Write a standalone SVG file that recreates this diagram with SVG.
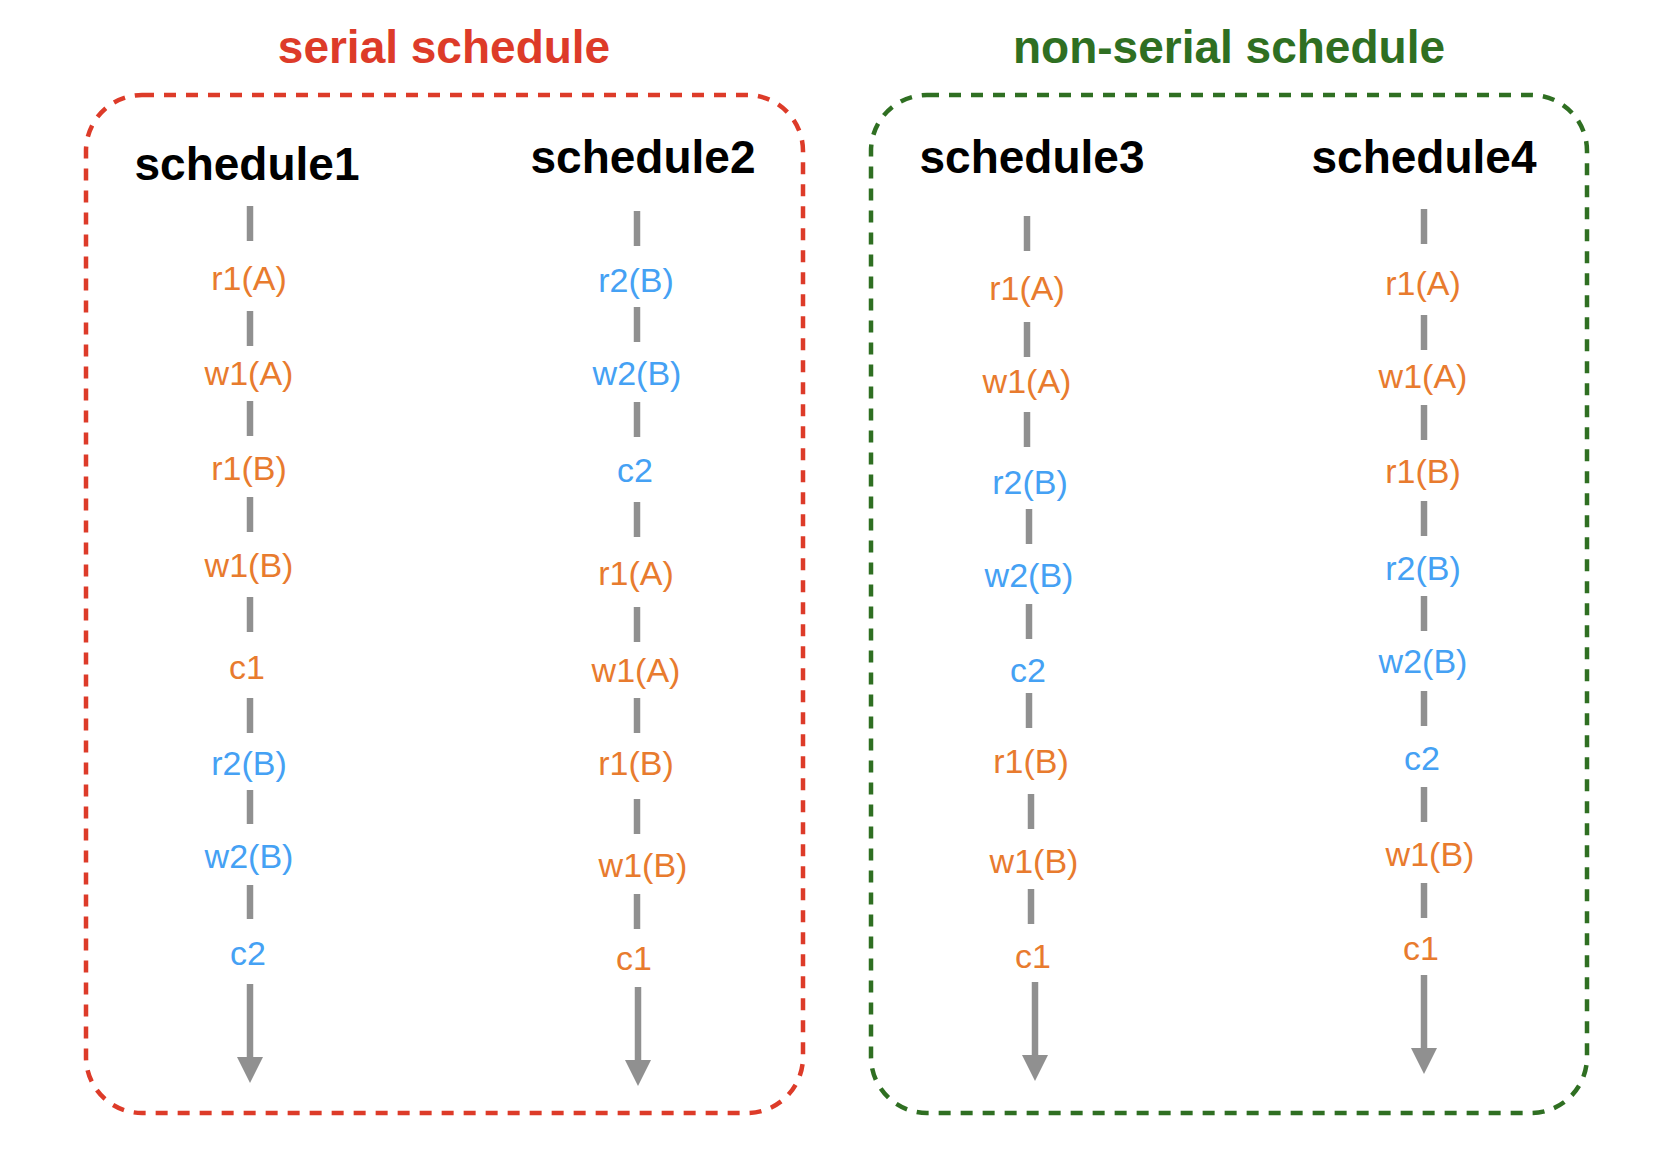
<svg xmlns="http://www.w3.org/2000/svg" width="1678" height="1154" viewBox="0 0 1678 1154">
<defs>
<style>
.title{font-family:"Liberation Sans",Arial,sans-serif;font-weight:bold;font-size:46px;text-anchor:middle}
.hdr{font-family:"Liberation Sans",Arial,sans-serif;font-weight:bold;font-size:46px;text-anchor:middle;fill:#000}
.lbl{font-family:"Liberation Sans",Arial,sans-serif;font-size:34px;text-anchor:middle}
.t1{fill:#E87B2E}
.t2{fill:#45A1F4}
.seg{stroke:#909090;stroke-width:6.5;fill:none}
.box{fill:none;stroke-width:4.5;stroke-dasharray:12 10}
</style>
<marker id="ah" viewBox="0 0 26 26" refX="0" refY="13" markerWidth="26" markerHeight="26" markerUnits="userSpaceOnUse" orient="auto">
<path d="M0,0 L26,13 L0,26 z" fill="#909090"/>
</marker>
</defs>
<rect width="1678" height="1154" fill="#fff"/>

<g id="serial-group">
<rect class="box" x="86" y="95" width="717" height="1018" rx="56" ry="56" stroke="#DD3B29"/>
<text class="title" x="444" y="63" fill="#DD3B29">serial schedule</text>
</g>
<g id="nonserial-group">
<rect class="box" x="871" y="95" width="716" height="1018" rx="56" ry="56" stroke="#2F6F22"/>
<text class="title" x="1229" y="63" fill="#2F6F22">non-serial schedule</text>
</g>

<g id="headers">
<g id="schedule1"><text class="hdr" x="247" y="180">schedule1</text></g>
<g id="schedule2"><text class="hdr" x="643" y="173">schedule2</text></g>
<g id="schedule3"><text class="hdr" x="1032" y="173">schedule3</text></g>
<g id="schedule4"><text class="hdr" x="1424" y="173">schedule4</text></g>
</g>

<g id="connectors">
<!-- column 1 -->
<line class="seg" x1="250" y1="206" x2="250" y2="241"/>
<line class="seg" x1="250" y1="311" x2="250" y2="346"/>
<line class="seg" x1="250" y1="401" x2="250" y2="436"/>
<line class="seg" x1="250" y1="497" x2="250" y2="532"/>
<line class="seg" x1="250" y1="597" x2="250" y2="632"/>
<line class="seg" x1="250" y1="698" x2="250" y2="733"/>
<line class="seg" x1="250" y1="790" x2="250" y2="824"/>
<line class="seg" x1="250" y1="885" x2="250" y2="919"/>
<line class="seg" x1="250" y1="984" x2="250" y2="1057" marker-end="url(#ah)"/>
<!-- column 2 -->
<line class="seg" x1="637" y1="211" x2="637" y2="246"/>
<line class="seg" x1="637" y1="307" x2="637" y2="342"/>
<line class="seg" x1="637" y1="402" x2="637" y2="437"/>
<line class="seg" x1="637" y1="502" x2="637" y2="537"/>
<line class="seg" x1="637" y1="607" x2="637" y2="642"/>
<line class="seg" x1="637" y1="698" x2="637" y2="733"/>
<line class="seg" x1="637" y1="799" x2="637" y2="834"/>
<line class="seg" x1="637" y1="894" x2="637" y2="929"/>
<line class="seg" x1="638" y1="987" x2="638" y2="1060" marker-end="url(#ah)"/>
<!-- column 3 -->
<line class="seg" x1="1027" y1="216" x2="1027" y2="251"/>
<line class="seg" x1="1027" y1="322" x2="1027" y2="357"/>
<line class="seg" x1="1027" y1="412" x2="1027" y2="447"/>
<line class="seg" x1="1029" y1="509" x2="1029" y2="544"/>
<line class="seg" x1="1029" y1="604" x2="1029" y2="639"/>
<line class="seg" x1="1029" y1="693" x2="1029" y2="728"/>
<line class="seg" x1="1031" y1="794" x2="1031" y2="829"/>
<line class="seg" x1="1031" y1="889" x2="1031" y2="924"/>
<line class="seg" x1="1035" y1="982" x2="1035" y2="1055" marker-end="url(#ah)"/>
<!-- column 4 -->
<line class="seg" x1="1424" y1="209" x2="1424" y2="244"/>
<line class="seg" x1="1424" y1="315" x2="1424" y2="350"/>
<line class="seg" x1="1424" y1="405" x2="1424" y2="440"/>
<line class="seg" x1="1424" y1="501" x2="1424" y2="536"/>
<line class="seg" x1="1424" y1="596" x2="1424" y2="631"/>
<line class="seg" x1="1424" y1="691" x2="1424" y2="726"/>
<line class="seg" x1="1424" y1="787" x2="1424" y2="822"/>
<line class="seg" x1="1424" y1="883" x2="1424" y2="918"/>
<line class="seg" x1="1424" y1="975" x2="1424" y2="1048" marker-end="url(#ah)"/>
</g>

<g id="col1">
<g id="s1-r1A"><text class="lbl t1" x="249" y="290">r1(A)</text></g>
<g id="s1-w1A"><text class="lbl t1" x="249" y="385">w1(A)</text></g>
<g id="s1-r1B"><text class="lbl t1" x="249" y="480">r1(B)</text></g>
<g id="s1-w1B"><text class="lbl t1" x="249" y="577">w1(B)</text></g>
<g id="s1-c1"><text class="lbl t1" x="247" y="679">c1</text></g>
<g id="s1-r2B"><text class="lbl t2" x="249" y="775">r2(B)</text></g>
<g id="s1-w2B"><text class="lbl t2" x="249" y="868">w2(B)</text></g>
<g id="s1-c2"><text class="lbl t2" x="248" y="965">c2</text></g>
</g>

<g id="col2">
<g id="s2-r2B"><text class="lbl t2" x="636" y="292">r2(B)</text></g>
<g id="s2-w2B"><text class="lbl t2" x="637" y="385">w2(B)</text></g>
<g id="s2-c2"><text class="lbl t2" x="635" y="482">c2</text></g>
<g id="s2-r1A"><text class="lbl t1" x="636" y="585">r1(A)</text></g>
<g id="s2-w1A"><text class="lbl t1" x="636" y="682">w1(A)</text></g>
<g id="s2-r1B"><text class="lbl t1" x="636" y="775">r1(B)</text></g>
<g id="s2-w1B"><text class="lbl t1" x="643" y="877">w1(B)</text></g>
<g id="s2-c1"><text class="lbl t1" x="634" y="970">c1</text></g>
</g>

<g id="col3">
<g id="s3-r1A"><text class="lbl t1" x="1027" y="300">r1(A)</text></g>
<g id="s3-w1A"><text class="lbl t1" x="1027" y="393">w1(A)</text></g>
<g id="s3-r2B"><text class="lbl t2" x="1030" y="494">r2(B)</text></g>
<g id="s3-w2B"><text class="lbl t2" x="1029" y="587">w2(B)</text></g>
<g id="s3-c2"><text class="lbl t2" x="1028" y="682">c2</text></g>
<g id="s3-r1B"><text class="lbl t1" x="1031" y="773">r1(B)</text></g>
<g id="s3-w1B"><text class="lbl t1" x="1034" y="873">w1(B)</text></g>
<g id="s3-c1"><text class="lbl t1" x="1033" y="968">c1</text></g>
</g>

<g id="col4">
<g id="s4-r1A"><text class="lbl t1" x="1423" y="295">r1(A)</text></g>
<g id="s4-w1A"><text class="lbl t1" x="1423" y="388">w1(A)</text></g>
<g id="s4-r1B"><text class="lbl t1" x="1423" y="483">r1(B)</text></g>
<g id="s4-r2B"><text class="lbl t2" x="1423" y="580">r2(B)</text></g>
<g id="s4-w2B"><text class="lbl t2" x="1423" y="673">w2(B)</text></g>
<g id="s4-c2"><text class="lbl t2" x="1422" y="770">c2</text></g>
<g id="s4-w1B"><text class="lbl t1" x="1430" y="866">w1(B)</text></g>
<g id="s4-c1"><text class="lbl t1" x="1421" y="960">c1</text></g>
</g>
</svg>
